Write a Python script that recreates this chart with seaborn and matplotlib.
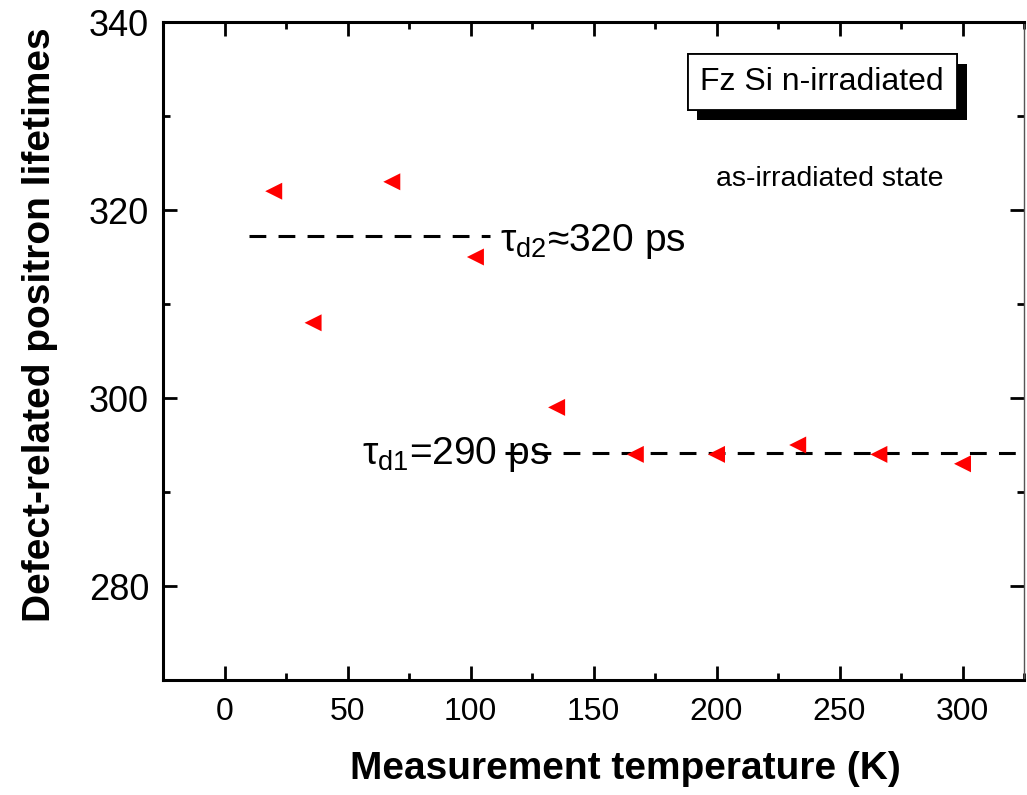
import numpy as np
import matplotlib
matplotlib.use("Agg")
import matplotlib.pyplot as plt
import matplotlib.patheffects as pe
import seaborn as sns

temperature = [20, 36, 68, 102, 135, 167, 200, 233, 266, 300]
lifetime = [322, 308, 323, 315, 299, 294, 294, 295, 294, 293]

# horizontal guide levels
tau_d2 = 317.2
tau_d2_x = [10, 108]
tau_d1 = 294.1
tau_d1_x = [114, 322]

x_ticks = [0, 50, 100, 150, 200, 250, 300]
y_ticks = [280, 300, 320, 340]

sns.set_theme(style="ticks")
plt.rcParams["font.family"] = ["Liberation Sans", "DejaVu Sans"]
plt.rcParams["mathtext.fontset"] = "custom"
plt.rcParams["mathtext.rm"] = "Liberation Sans"
plt.rcParams["text.color"] = "black"
plt.rcParams["axes.labelcolor"] = "black"
plt.rcParams["xtick.color"] = "black"
plt.rcParams["ytick.color"] = "black"

fig = plt.figure(figsize=(10.27, 7.95), dpi=100)
ax = fig.add_axes([163 / 1027, 1 - 680 / 795, (1024 - 163) / 1027, (680 - 22) / 795])

sns.scatterplot(x=temperature, y=lifetime, marker="<", color="red", s=150,
                edgecolor="none", ax=ax, zorder=3)

ax.plot(tau_d2_x, [tau_d2, tau_d2], color="black", lw=2.2, dashes=(5.5, 4))
ax.plot(tau_d1_x, [tau_d1, tau_d1], color="black", lw=2.2, dashes=(5.5, 4))

ax.text(112, 316.6, "τ$_{\\mathregular{d2}}$≈320 ps", fontsize=28, va="center", ha="left")
ax.text(56, 294.0, "τ$_{\\mathregular{d1}}$=290 ps", fontsize=28, va="center", ha="left")

t = ax.text(243, 333.6, "Fz Si n-irradiated", fontsize=23, ha="center", va="center",
            bbox=dict(boxstyle="square,pad=0.4", fc="white", ec="black", lw=1.3))
t.get_bbox_patch().set_path_effects([
    pe.withSimplePatchShadow(offset=(7, -7), shadow_rgbFace="black", alpha=1.0),
    pe.Normal()])
ax.text(246, 323.3, "as-irradiated state", fontsize=20.5, ha="center", va="center")

ax.set_xlim(-25, 325)
ax.set_ylim(270, 340)
ax.set_xticks(x_ticks)
ax.set_yticks(y_ticks)
ax.set_xticks(np.arange(-25, 326, 25), minor=True)
ax.set_yticks(np.arange(270, 341, 10), minor=True)

ax.tick_params(which="both", direction="in", top=True, right=True, color="black")
ax.tick_params(which="major", length=10, width=2)
ax.tick_params(which="minor", length=5, width=2)
ax.tick_params(axis="x", labelsize=23, pad=12)
ax.tick_params(axis="y", labelsize=26, pad=10)

for side in ["left", "bottom", "top"]:
    ax.spines[side].set_linewidth(2.2)
    ax.spines[side].set_color("black")
ax.spines["right"].set_linewidth(1)
ax.spines["right"].set_color("#555555")

ax.set_xlabel("Measurement temperature (K)", fontsize=28, fontweight="bold")
ax.set_ylabel("Defect-related positron lifetimes", fontsize=28, fontweight="bold")
ax.xaxis.set_label_coords(0.537, -0.108)
ax.yaxis.set_label_coords(-0.122, 0.54)

fig.savefig("out.png", dpi=100)
